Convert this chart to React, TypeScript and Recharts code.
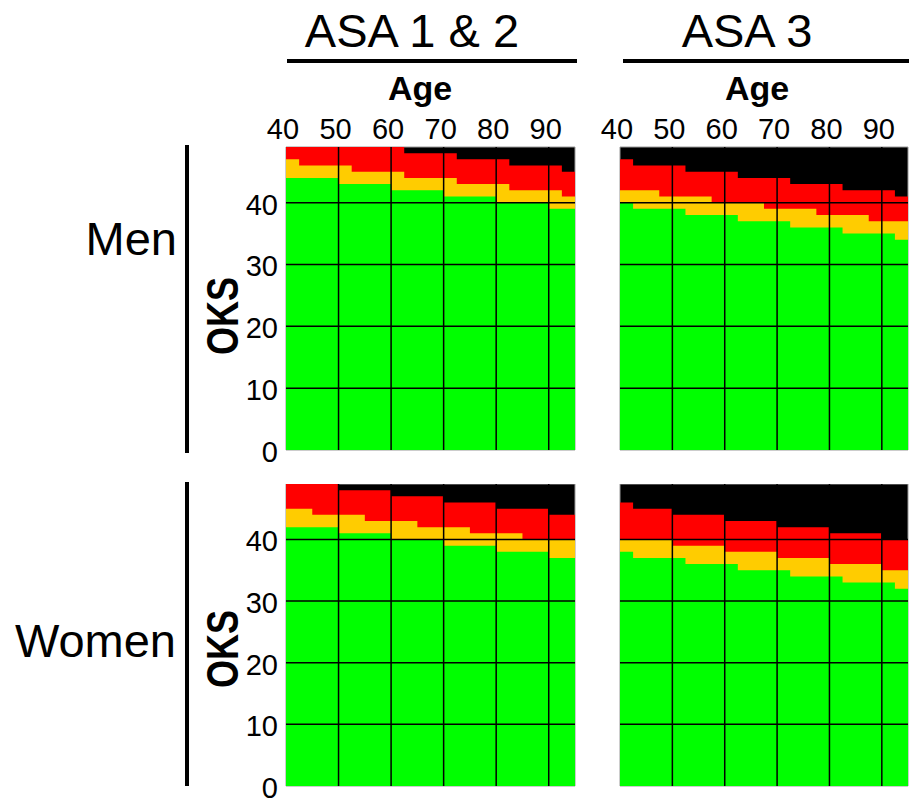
import React from "react";
import { AreaChart, Area, XAxis, YAxis, ReferenceArea, ReferenceLine } from "recharts";

// ages every 2.5 years, last point closes the final step
const AGES = [40, 42.5, 45, 47.5, 50, 52.5, 55, 57.5, 60, 62.5, 65, 67.5, 70, 72.5, 75, 77.5, 80, 82.5, 85, 87.5, 90, 92.5, 95];
const AGE_TICKS = [40, 50, 60, 70, 80, 90];
const OKS_TICKS = [0, 10, 20, 30, 40];
const OKS_GRID = [10, 20, 30, 40];
const AGE_GRID = [50, 60, 70, 80, 90];

// upper edge of each band (OKS)
const MEN_ASA12_GREEN = [44, 44, 44, 44, 43, 43, 43, 43, 42, 42, 42, 42, 41, 41, 41, 41, 40, 40, 40, 40, 39, 39, 39];
const MEN_ASA12_YELLOW = [47, 46, 46, 46, 46, 45, 45, 45, 45, 44, 44, 44, 44, 43, 43, 43, 43, 42, 42, 42, 42, 41, 41];
const MEN_ASA12_RED = [49, 49, 49, 49, 49, 49, 49, 49, 49, 48, 48, 48, 48, 47, 47, 47, 47, 46, 46, 46, 46, 45, 45];

const MEN_ASA3_GREEN = [40, 39, 39, 39, 39, 38, 38, 38, 38, 37, 37, 37, 37, 36, 36, 36, 36, 35, 35, 35, 35, 34, 34];
const MEN_ASA3_YELLOW = [42, 42, 42, 41, 41, 41, 41, 40, 40, 40, 40, 39, 39, 39, 39, 38, 38, 38, 38, 37, 37, 37, 37];
const MEN_ASA3_RED = [47, 46, 46, 46, 46, 45, 45, 45, 45, 44, 44, 44, 44, 43, 43, 43, 43, 42, 42, 42, 42, 41, 41];

const WOMEN_ASA12_GREEN = [42, 42, 42, 42, 41, 41, 41, 41, 40, 40, 40, 40, 39, 39, 39, 39, 38, 38, 38, 38, 37, 37, 37];
const WOMEN_ASA12_YELLOW = [45, 45, 44, 44, 44, 44, 43, 43, 43, 43, 42, 42, 42, 42, 41, 41, 41, 41, 40, 40, 40, 40, 40];
const WOMEN_ASA12_RED = [49, 49, 49, 49, 48, 48, 48, 48, 47, 47, 47, 47, 46, 46, 46, 46, 45, 45, 45, 45, 44, 44, 44];

const WOMEN_ASA3_GREEN = [38, 37, 37, 37, 37, 36, 36, 36, 36, 35, 35, 35, 35, 34, 34, 34, 34, 33, 33, 33, 33, 32, 32];
const WOMEN_ASA3_YELLOW = [40, 40, 40, 40, 39, 39, 39, 39, 38, 38, 38, 38, 37, 37, 37, 37, 36, 36, 36, 36, 35, 35, 35];
const WOMEN_ASA3_RED = [46, 45, 45, 45, 44, 44, 44, 44, 43, 43, 43, 43, 42, 42, 42, 42, 41, 41, 41, 41, 40, 40, 40];

const FONT = '"Liberation Sans", Arial, Helvetica, sans-serif';

function AgeTick(props: any) {
  const { x, y, payload } = props;
  return (
    <text x={x - 3} y={y} textAnchor="middle" fontSize={29} fill="#000" fontFamily={FONT}>
      {payload.value}
    </text>
  );
}

function OksTick(props: any) {
  const { x, y, payload } = props;
  return (
    <text x={x} y={y + 12} textAnchor="end" fontSize={29} fill="#000" fontFamily={FONT}>
      {payload.value}
    </text>
  );
}

interface PanelProps {
  green: number[];
  yellow: number[];
  red: number[];
  left: number;
  top: number;
  width: number;
  height: number;
  margin: { top: number; right: number; bottom: number; left: number };
  showX?: boolean;
  showY?: boolean;
}

function Panel({ green, yellow, red, left, top, width, height, margin, showX, showY }: PanelProps) {
  const data = AGES.map((age, i) => ({ age, green: green[i], yellow: yellow[i], red: red[i] }));
  return (
    <div style={{ position: "absolute", left, top }}>
      <AreaChart width={width} height={height} data={data} margin={margin}>
        <XAxis
          dataKey="age"
          type="number"
          domain={[40, 95]}
          ticks={AGE_TICKS}
          orientation="top"
          height={57}
          hide={!showX}
          axisLine={false}
          tickLine={false}
          interval={0}
          allowDataOverflow
          tick={<AgeTick />}
        />
        <YAxis
          type="number"
          domain={[0, 49]}
          ticks={OKS_TICKS}
          width={86}
          hide={!showY}
          axisLine={false}
          tickLine={false}
          interval={0}
          allowDataOverflow
          tick={<OksTick />}
        />
        <ReferenceArea x1={40} x2={95} y1={0} y2={49} fill="#000" fillOpacity={1} stroke="#999" strokeWidth={1} />
        <Area type="stepAfter" dataKey="red" fill="#ff0000" fillOpacity={1} stroke="none" dot={false} activeDot={false} isAnimationActive={false} />
        <Area type="stepAfter" dataKey="yellow" fill="#ffcc00" fillOpacity={1} stroke="none" dot={false} activeDot={false} isAnimationActive={false} />
        <Area type="stepAfter" dataKey="green" fill="#00ff00" fillOpacity={1} stroke="none" dot={false} activeDot={false} isAnimationActive={false} />
        {OKS_GRID.map((v) => (
          <ReferenceLine key={"y" + v} y={v} stroke="#000" strokeWidth={1.5} />
        ))}
        {AGE_GRID.map((v) => (
          <ReferenceLine key={"x" + v} x={v} stroke="#000" strokeWidth={1.5} />
        ))}
      </AreaChart>
    </div>
  );
}

export default function App() {
  return (
    <div style={{ position: "absolute", left: 0, top: 0, width: 909, height: 801, background: "#fff", fontFamily: FONT }}>
      <svg width={909} height={801} style={{ position: "absolute", left: 0, top: 0 }}>
        <text x={412} y={47} textAnchor="middle" fontSize={47} fill="#000">ASA 1 &amp; 2</text>
        <text x={747} y={47} textAnchor="middle" fontSize={47} fill="#000">ASA 3</text>
        <rect x={287} y={59} width={290} height={4} fill="#000" />
        <rect x={623} y={59} width={286} height={4} fill="#000" />
        <text x={420} y={100} textAnchor="middle" fontSize={34} fontWeight="bold" fill="#000">Age</text>
        <text x={757} y={100} textAnchor="middle" fontSize={34} fontWeight="bold" fill="#000">Age</text>
        <text x={177} y={255} textAnchor="end" fontSize={47} fill="#000">Men</text>
        <text x={176} y={657} textAnchor="end" fontSize={47} fill="#000">Women</text>
        <rect x={185} y={145} width={4} height={308} fill="#000" />
        <rect x={185} y={482} width={4} height={304} fill="#000" />
        <text transform="translate(238,316) rotate(-90)" textAnchor="middle" fontSize={44} fontWeight="bold" fill="#000" textLength={78} lengthAdjust="spacingAndGlyphs">OKS</text>
        <text transform="translate(238,649) rotate(-90)" textAnchor="middle" fontSize={44} fontWeight="bold" fill="#000" textLength={78} lengthAdjust="spacingAndGlyphs">OKS</text>
      </svg>
      <Panel
        green={MEN_ASA12_GREEN}
        yellow={MEN_ASA12_YELLOW}
        red={MEN_ASA12_RED}
        left={200}
        top={90}
        width={380}
        height={385}
        margin={{ top: 0, right: 5, bottom: 25, left: 0 }}
        showX
        showY
      />
      <Panel
        green={MEN_ASA3_GREEN}
        yellow={MEN_ASA3_YELLOW}
        red={MEN_ASA3_RED}
        left={590}
        top={90}
        width={319}
        height={385}
        margin={{ top: 0, right: 1, bottom: 25, left: 30 }}
        showX
      />
      <Panel
        green={WOMEN_ASA12_GREEN}
        yellow={WOMEN_ASA12_YELLOW}
        red={WOMEN_ASA12_RED}
        left={200}
        top={484}
        width={380}
        height={317}
        margin={{ top: 0, right: 5, bottom: 15, left: 0 }}
        showY
      />
      <Panel
        green={WOMEN_ASA3_GREEN}
        yellow={WOMEN_ASA3_YELLOW}
        red={WOMEN_ASA3_RED}
        left={590}
        top={484}
        width={319}
        height={317}
        margin={{ top: 0, right: 1, bottom: 15, left: 30 }}
      />
    </div>
  );
}
